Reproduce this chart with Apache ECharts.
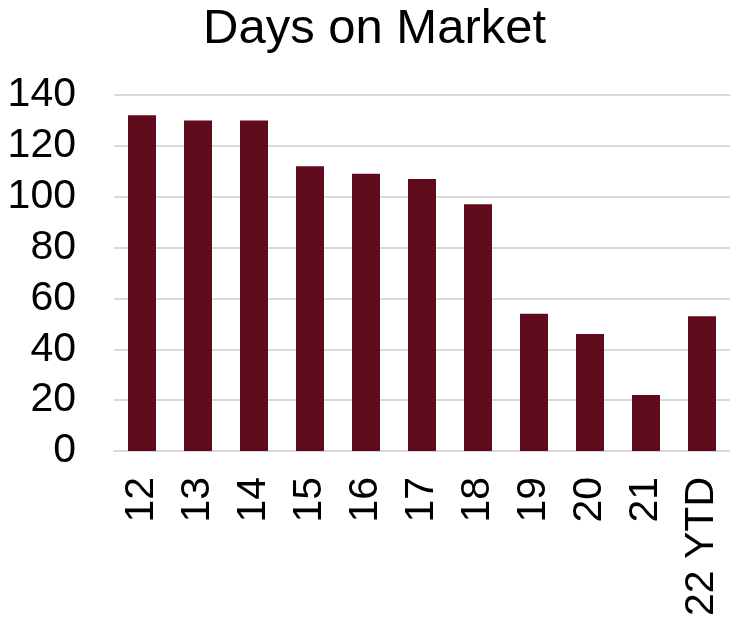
<!DOCTYPE html>
<html>
<head>
<meta charset="utf-8">
<script src="https://cdn.jsdelivr.net/npm/echarts@6/dist/echarts.min.js"></script>
<style>
    html, body { margin: 0; padding: 0; background: #fff; }
    #chart { width: 730px; height: 623px; }
</style>
</head>
<body>
<div id="chart"></div>
<script>
    var years = ['12', '13', '14', '15', '16', '17', '18', '19', '20', '21', '22 YTD'];
    var daysOnMarket = [132, 130, 130, 112, 109, 107, 97, 54, 46, 22, 53];
    var yTicks = [0, 20, 40, 60, 80, 100, 120, 140];

    var fontName = 'Liberation Sans, Arial, sans-serif';
    var myChart = echarts.init(document.getElementById('chart'));
    myChart.setOption({
        animation: false,
        title: {
            text: 'Days on Market',
            left: 198,
            top: 0,
            textStyle: {
                fontFamily: fontName,
                fontSize: 49,
                fontWeight: 'normal',
                color: '#000'
            }
        },
        grid: {
            left: 114,
            right: 0,
            top: 95,
            bottom: 172
        },
        xAxis: {
            type: 'category',
            data: years,
            axisLine: { lineStyle: { color: '#d9d9d9', width: 2 } },
            axisTick: { show: false },
            axisLabel: {
                rotate: 90,
                margin: 26,
                fontFamily: fontName,
                fontSize: 41,
                color: '#000'
            }
        },
        yAxis: {
            type: 'value',
            min: yTicks[0],
            max: yTicks[yTicks.length - 1],
            interval: 20,
            axisLine: { show: false },
            axisTick: { show: false },
            splitLine: { lineStyle: { color: '#d9d9d9', width: 2 } },
            axisLabel: {
                margin: 38,
                fontFamily: fontName,
                fontSize: 41,
                color: '#000'
            }
        },
        series: [
            {
                type: 'bar',
                data: daysOnMarket,
                barWidth: '50%',
                itemStyle: { color: '#600b1c' }
            }
        ]
    });
</script>
</body>
</html>
